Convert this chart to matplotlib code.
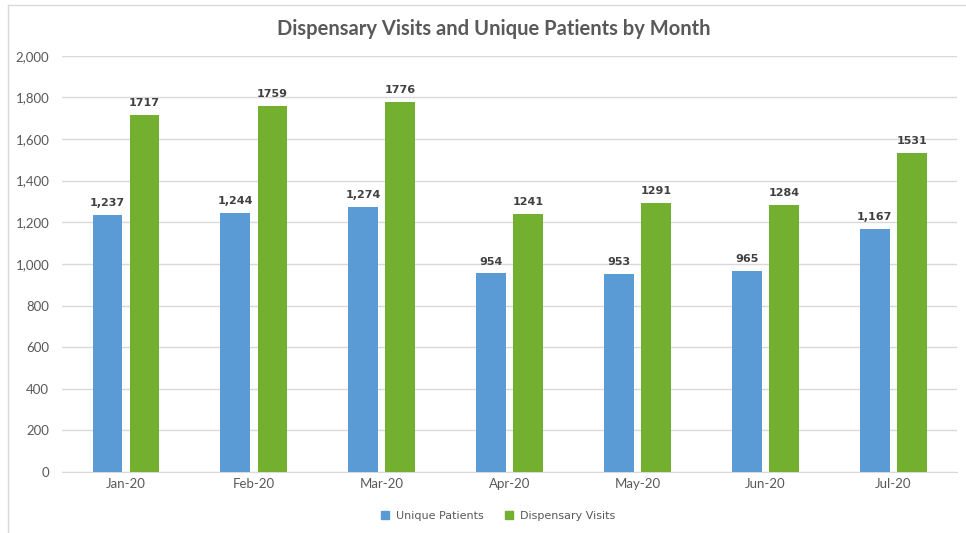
"""Dispensary visits and unique patients by month, clustered bar chart."""

import matplotlib

matplotlib.use("Agg")
import matplotlib.pyplot as plt
import numpy as np
from matplotlib.lines import Line2D
from matplotlib.ticker import FuncFormatter

months = ["Jan-20", "Feb-20", "Mar-20", "Apr-20", "May-20", "Jun-20", "Jul-20"]
unique_patients = [1237, 1244, 1274, 954, 953, 965, 1167]
dispensary_visits = [1717, 1759, 1776, 1241, 1291, 1284, 1531]

_BLUE = "#5B9BD5"
_GREEN = "#74B030"
_TEXT = "#595959"
_LABEL = "#404040"
_GRID = "#D9D9D9"

plt.rcParams["font.family"] = ["Lato", "DejaVu Sans"]

fig = plt.figure(figsize=(9.66, 5.33), dpi=100)
ax = fig.add_axes([0.064, 0.1144, 0.927, 0.781])

x = np.arange(len(months))
width = 0.23
offset = 0.145

b1 = ax.bar(x - offset, unique_patients, width, color=_BLUE, label="Unique Patients", zorder=3)
b2 = ax.bar(x + offset, dispensary_visits, width, color=_GREEN, label="Dispensary Visits", zorder=3)

for rect, val in zip(b1, unique_patients):
    ax.annotate(f"{val:,}", (rect.get_x() + rect.get_width() / 2, val),
                xytext=(0, 5), textcoords="offset points", ha="center", va="bottom",
                fontsize=8, fontweight="bold", color=_LABEL, family="DejaVu Sans")
for rect, val in zip(b2, dispensary_visits):
    ax.annotate(f"{val}", (rect.get_x() + rect.get_width() / 2, val),
                xytext=(0, 5), textcoords="offset points", ha="center", va="bottom",
                fontsize=8, fontweight="bold", color=_LABEL, family="DejaVu Sans")

ax.set_xlim(-0.5, len(months) - 0.5)
ax.set_ylim(0, 2000)
ax.set_yticks(range(0, 2001, 200))
ax.yaxis.set_major_formatter(FuncFormatter(lambda v, _: f"{int(v):,}"))
ax.set_xticks(x)
ax.set_xticklabels(months)
ax.tick_params(axis="both", length=0, colors=_TEXT, labelsize=9.5)
ax.tick_params(axis="x", pad=4)
ax.tick_params(axis="y", pad=9)

ax.grid(axis="y", color=_GRID, linewidth=1, zorder=0)
for side in ["top", "right", "left"]:
    ax.spines[side].set_visible(False)
ax.spines["bottom"].set_color(_GRID)

fig.text(0.511, 0.945, "Dispensary Visits and Unique Patients by Month",
         ha="center", va="center", fontsize=14.5, fontweight="bold", color=_TEXT)

handles = [
    Line2D([], [], marker="s", linestyle="", color=_BLUE, markersize=6),
    Line2D([], [], marker="s", linestyle="", color=_GREEN, markersize=6),
]
fig.legend(handles, ["Unique Patients", "Dispensary Visits"], loc="center",
           bbox_to_anchor=(0.512, 0.032), ncol=2, frameon=False,
           prop={"family": "DejaVu Sans", "size": 8}, labelcolor=_TEXT,
           handletextpad=0.0, columnspacing=1.2)

# thin frame remnants on the top and left edges
fig.add_artist(Line2D([0.008, 1.0], [0.991, 0.991], color=_GRID, linewidth=1))
fig.add_artist(Line2D([0.008, 0.008], [0.0, 0.991], color=_GRID, linewidth=1))

fig.savefig("out.png", dpi=100)
plt.close(fig)
